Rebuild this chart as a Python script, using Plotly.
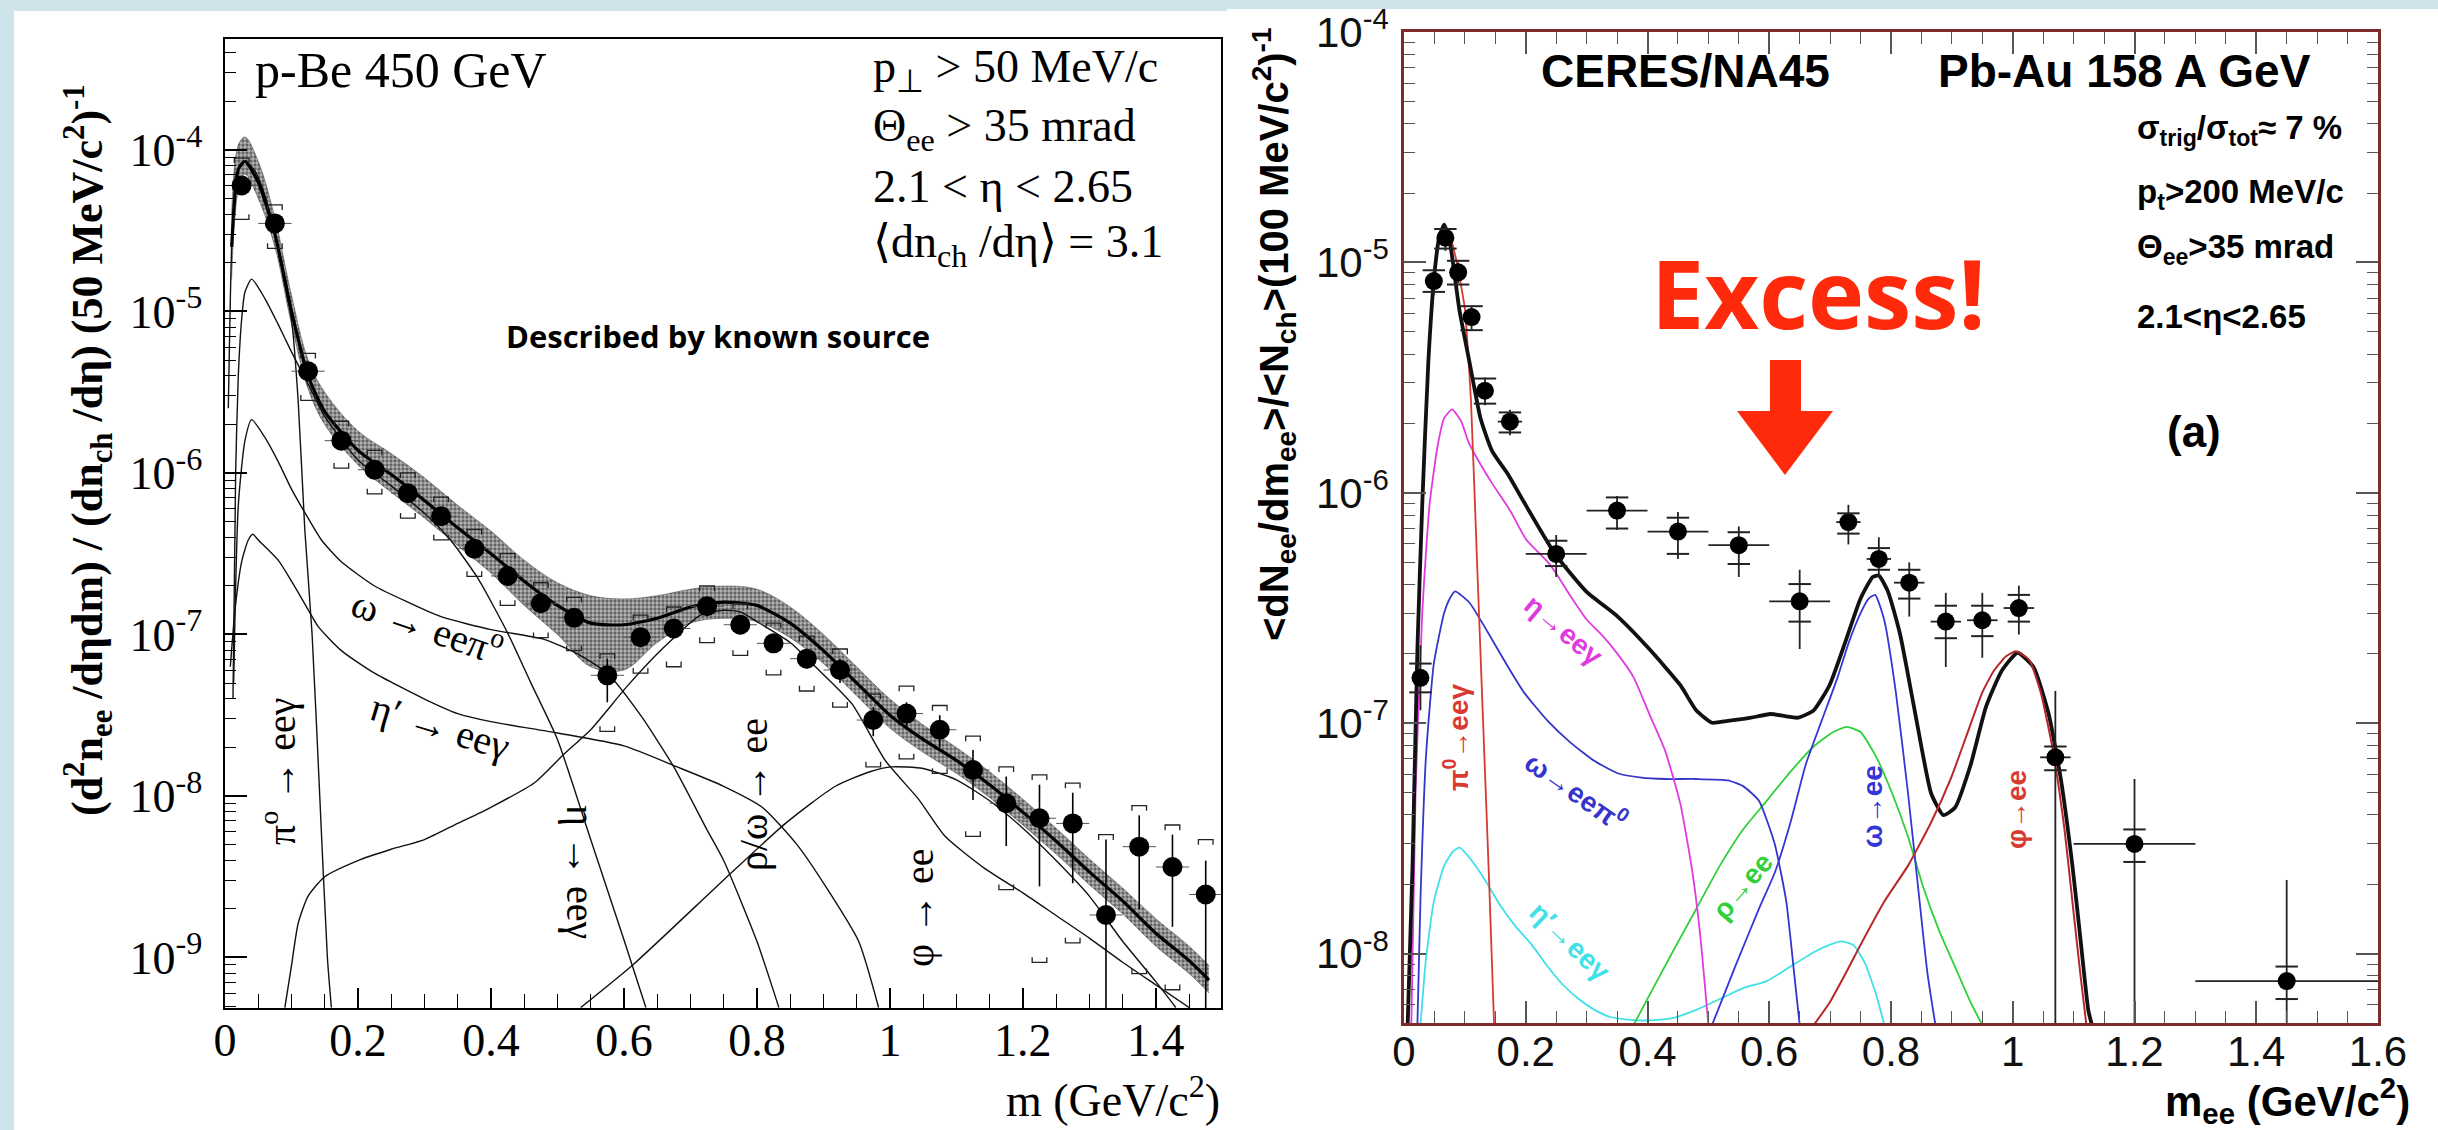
import plotly.graph_objects as go

W, H = 2438, 1130

# ---------------------------------------------------------------------------
# Left panel: p-Be 450 GeV (values stored as log10 of the yield)
# ---------------------------------------------------------------------------
pbe_mass = [0.025, 0.075, 0.125, 0.175, 0.225, 0.275, 0.325, 0.375, 0.425, 0.475,
            0.525, 0.575, 0.625, 0.675, 0.725, 0.775, 0.825, 0.875, 0.925, 0.975,
            1.025, 1.075, 1.125, 1.175, 1.225, 1.275, 1.325, 1.375, 1.425, 1.475]
pbe_lg = [-4.22, -4.455, -5.37, -5.80, -5.98, -6.126, -6.268, -6.469, -6.638, -6.807,
          -6.897, -7.253, -7.017, -6.963, -6.825, -6.94, -7.055, -7.15, -7.22, -7.53,
          -7.49, -7.59, -7.839, -8.045, -8.138, -8.17, -8.737, -8.314, -8.44, -8.61]
pbe_stat_hi = [-4.19, -4.43, -5.34, -5.77, -5.95, -6.09, -6.23, -6.43, -6.60, -6.76,
               -6.85, -7.15, -6.96, -6.91, -6.78, -6.89, -7.0, -7.09, -7.15, -7.45,
               -7.42, -7.5, -7.715, -7.88, -7.93, -7.98, -8.27, -8.12, -8.24, -8.40]
pbe_stat_lo = [-4.25, -4.48, -5.40, -5.83, -6.01, -6.16, -6.31, -6.51, -6.68, -6.86,
               -6.95, -7.42, -7.08, -7.02, -6.87, -6.99, -7.11, -7.21, -7.3, -7.63,
               -7.58, -7.7, -8.025, -8.31, -8.56, -8.54, -9.6, -8.70, -8.81, -9.6]
pbe_sys_hi = [-4.05, -4.34, -5.26, -5.68, -5.86, -6.0, -6.15, -6.35, -6.5, -6.68,
              -6.77, -7.12, -6.88, -6.83, -6.7, -6.81, -6.93, -7.01, -7.09, -7.37,
              -7.32, -7.44, -7.63, -7.82, -7.87, -7.92, -8.24, -8.06, -8.18, -8.27]
pbe_sys_lo = [-4.43, -4.61, -5.55, -5.97, -6.13, -6.28, -6.415, -6.64, -6.82, -7.02,
              -7.1, -7.6, -7.24, -7.2, -7.05, -7.13, -7.25, -7.35, -7.45, -7.82,
              -7.77, -7.86, -8.25, -8.58, -9.03, -8.91, -9.6, -9.1, -9.2, -9.6]
pbe_bin_half = [0.025] * 30

# total cocktail with its systematic band
band_mass = [0.01, 0.02, 0.03, 0.05, 0.075, 0.1, 0.125, 0.15, 0.2, 0.25, 0.3, 0.35,
             0.4, 0.45, 0.5, 0.55, 0.6, 0.65, 0.7, 0.75, 0.8, 0.85, 0.9, 0.95, 1.0,
             1.05, 1.1, 1.15, 1.2, 1.25, 1.3, 1.35, 1.4, 1.45, 1.48]
total_lg = [-4.6, -4.12, -4.07, -4.2, -4.52, -5.0, -5.4, -5.62, -5.86, -6.01, -6.17,
            -6.34, -6.5, -6.67, -6.82, -6.93, -6.94, -6.9, -6.83, -6.8, -6.82, -6.93,
            -7.1, -7.3, -7.5, -7.65, -7.78, -7.93, -8.1, -8.28, -8.47, -8.65, -8.85,
            -9.02, -9.14]
band_hi_lg = [-4.4, -3.97, -3.92, -4.07, -4.42, -4.9, -5.3, -5.5, -5.74, -5.88, -6.03,
              -6.2, -6.36, -6.54, -6.68, -6.76, -6.78, -6.76, -6.72, -6.7, -6.72, -6.83,
              -7.0, -7.2, -7.4, -7.56, -7.7, -7.85, -8.02, -8.2, -8.39, -8.57, -8.76,
              -8.93, -9.05]
band_lo_lg = [-4.8, -4.25, -4.15, -4.3, -4.6, -5.08, -5.48, -5.7, -5.95, -6.12, -6.28,
              -6.45, -6.62, -6.82, -7.0, -7.2, -7.22, -7.05, -6.93, -6.9, -6.92, -7.02,
              -7.18, -7.38, -7.58, -7.73, -7.86, -8.01, -8.18, -8.36, -8.55, -8.73,
              -8.93, -9.1, -9.22]

# individual hadron decay sources
pi0_mass = [0.005, 0.01, 0.015, 0.02, 0.03, 0.045, 0.06, 0.075, 0.09, 0.1, 0.11, 0.12,
            0.131, 0.1425, 0.154, 0.16]
pi0_lg = [-5.6, -4.6, -4.25, -4.12, -4.07, -4.13, -4.28, -4.52, -4.83, -5.05, -5.55,
          -6.35, -7.0, -8.0, -9.0, -9.31]
eta_mass = [0.012, 0.016, 0.02, 0.025, 0.03, 0.04, 0.06, 0.08, 0.1, 0.125, 0.15, 0.2,
            0.25, 0.3, 0.34, 0.38, 0.425, 0.46, 0.5, 0.55, 0.6, 0.633]
eta_lg = [-7.4, -6.0, -5.4, -5.05, -4.88, -4.8, -4.92, -5.08, -5.25, -5.45, -5.65,
          -5.92, -6.08, -6.25, -6.42, -6.65, -6.99, -7.3, -7.65, -8.27, -8.89, -9.31]
omd_mass = [0.013, 0.02, 0.03, 0.04, 0.06, 0.08, 0.1, 0.125, 0.145, 0.175, 0.225, 0.275,
            0.325, 0.4, 0.48, 0.53, 0.575, 0.625, 0.675, 0.725, 0.75, 0.8, 0.833]
omd_lg = [-7.3, -6.2, -5.8, -5.67, -5.78, -5.93, -6.1, -6.28, -6.415, -6.55, -6.70,
          -6.8, -6.89, -6.97, -7.03, -7.12, -7.24, -7.5, -7.82, -8.21, -8.4, -8.9, -9.31]
etap_mass = [0.008, 0.015, 0.025, 0.035, 0.042, 0.05, 0.08, 0.1, 0.12, 0.14, 0.175,
             0.225, 0.3, 0.35, 0.4, 0.5, 0.6, 0.68, 0.75, 0.808, 0.86, 0.908, 0.953,
             0.983]
etap_lg = [-7.2, -6.85, -6.55, -6.415, -6.38, -6.415, -6.54, -6.67, -6.81, -6.95,
           -7.1, -7.24, -7.4, -7.49, -7.54, -7.61, -7.69, -7.82, -7.94, -8.07, -8.3,
           -8.59, -8.9, -9.31]
rho_mass = [0.09, 0.1, 0.11, 0.125, 0.15, 0.2, 0.25, 0.3, 0.35, 0.4, 0.465, 0.51, 0.55,
            0.605, 0.66, 0.715, 0.75, 0.775, 0.8, 0.85, 0.888, 0.943, 0.993, 1.043,
            1.083, 1.143, 1.2, 1.25, 1.3, 1.35, 1.4, 1.45]
rho_lg = [-9.31, -9.05, -8.79, -8.62, -8.5, -8.4, -8.33, -8.27, -8.17, -8.07, -7.92,
          -7.74, -7.59, -7.32, -7.08, -6.88, -6.85, -6.86, -6.92, -7.05, -7.2, -7.43,
          -7.78, -8.02, -8.25, -8.45, -8.6, -8.74, -8.88, -9.03, -9.17, -9.31]
phi_mass = [0.535, 0.615, 0.75, 0.843, 0.918, 0.97, 1.003, 1.05, 1.1, 1.15, 1.2, 1.25,
            1.3, 1.35, 1.4, 1.43]
phi_lg = [-9.31, -9.04, -8.52, -8.17, -7.94, -7.85, -7.82, -7.83, -7.9, -8.03, -8.2,
          -8.4, -8.62, -8.9, -9.15, -9.31]

# ---------------------------------------------------------------------------
# Right panel: CERES/NA45 Pb-Au 158 A GeV
# ---------------------------------------------------------------------------
pbau_mass = [0.027, 0.049, 0.068, 0.089, 0.111, 0.133, 0.174, 0.25, 0.35, 0.45, 0.55,
             0.65, 0.73, 0.78, 0.83, 0.89, 0.95, 1.01, 1.07, 1.2, 1.45]
pbau_half = [0.01, 0.01, 0.01, 0.01, 0.01, 0.01, 0.02, 0.05, 0.05, 0.05, 0.05, 0.05,
             0.02, 0.02, 0.025, 0.025, 0.025, 0.025, 0.025, 0.1, 0.15]
pbau_lg = [-6.803, -5.081, -4.893, -5.043, -5.237, -5.557, -5.691, -6.265, -6.077,
           -6.168, -6.227, -6.471, -6.127, -6.287, -6.39, -6.559, -6.553, -6.50,
           -7.148, -7.524, -8.119]
pbau_stat_hi = [-6.662, -5.018, -4.84, -5.0, -5.19, -5.5, -5.64, -6.183, -6.014, -6.083,
                -6.146, -6.334, -6.052, -6.193, -6.302, -6.434, -6.434, -6.403, -6.86,
                -7.242, -7.68]
pbau_stat_lo = [-6.944, -5.143, -4.95, -5.09, -5.29, -5.62, -5.75, -6.365, -6.161,
                -6.287, -6.365, -6.678, -6.224, -6.365, -6.537, -6.756, -6.716, -6.615,
                -8.6, -8.6, -8.6]
pbau_sys_hi = [-6.741, -5.034, -4.855, -4.993, -5.19, -5.504, -5.651, -6.208, -6.02,
               -6.108, -6.171, -6.396, -6.089, -6.24, -6.334, -6.49, -6.49, -6.443,
               -7.101, -7.461, -8.056]
pbau_sys_lo = [-6.866, -5.128, -4.94, -5.096, -5.294, -5.613, -5.738, -6.318, -6.155,
               -6.265, -6.309, -6.559, -6.177, -6.334, -6.459, -6.631, -6.622, -6.559,
               -7.204, -7.602, -8.197]

cock_mass = [0.006, 0.014, 0.022, 0.03, 0.04, 0.05, 0.058, 0.066, 0.076, 0.091, 0.107,
             0.126, 0.145, 0.171, 0.197, 0.248, 0.3, 0.351, 0.403, 0.454, 0.48, 0.506,
             0.532, 0.57, 0.602, 0.647, 0.673, 0.699, 0.725, 0.75, 0.77, 0.78, 0.795,
             0.815, 0.84, 0.866, 0.886, 0.905, 0.931, 0.956, 0.982, 1.008, 1.034,
             1.059, 1.079, 1.098, 1.111, 1.124, 1.13]
cock_lg = [-8.31, -7.62, -6.68, -6.05, -5.43, -5.05, -4.89, -4.836, -4.924, -5.206,
           -5.425, -5.68, -5.82, -5.92, -6.04, -6.265, -6.43, -6.537, -6.678, -6.835,
           -6.944, -6.998, -6.99, -6.976, -6.96, -6.976, -6.944, -6.835, -6.647, -6.459,
           -6.365, -6.359, -6.428, -6.615, -6.96, -7.305, -7.399, -7.367, -7.179,
           -6.929, -6.772, -6.694, -6.756, -6.96, -7.242, -7.618, -7.931, -8.244, -8.31]
r_pi0_mass = [0.006, 0.014, 0.022, 0.03, 0.04, 0.05, 0.058, 0.066, 0.075, 0.085, 0.095,
              0.1, 0.11, 0.12, 0.13, 0.14, 0.148]
r_pi0_lg = [-8.31, -7.62, -6.68, -6.05, -5.43, -5.06, -4.9, -4.86, -4.88, -4.98, -5.12,
            -5.2, -5.6, -6.3, -7.0, -7.7, -8.31]
r_eta_mass = [0.012, 0.019, 0.03, 0.042, 0.055, 0.066, 0.079, 0.094, 0.106, 0.12, 0.145,
              0.175, 0.2, 0.236, 0.25, 0.274, 0.3, 0.326, 0.351, 0.377, 0.403, 0.429,
              0.454, 0.474, 0.487, 0.5]
r_eta_lg = [-8.31, -7.3, -6.52, -6.05, -5.8, -5.676, -5.638, -5.69, -5.78, -5.85, -5.96,
            -6.08, -6.2, -6.3, -6.35, -6.45, -6.55, -6.62, -6.70, -6.80, -6.96, -7.12,
            -7.35, -7.65, -7.93, -8.31]
r_omd_mass = [0.022, 0.027, 0.036, 0.049, 0.066, 0.075, 0.084, 0.107, 0.133, 0.171,
              0.197, 0.236, 0.274, 0.313, 0.351, 0.39, 0.429, 0.48, 0.532, 0.557, 0.583,
              0.609, 0.628, 0.641, 0.65]
r_omd_lg = [-8.31, -7.77, -7.148, -6.741, -6.52, -6.46, -6.428, -6.475, -6.584, -6.756,
            -6.866, -6.99, -7.085, -7.164, -7.217, -7.236, -7.242, -7.242, -7.248,
            -7.273, -7.336, -7.524, -7.774, -8.088, -8.31]
r_etap_mass = [0.027, 0.036, 0.049, 0.066, 0.081, 0.091, 0.113, 0.133, 0.158, 0.184,
               0.21, 0.236, 0.261, 0.287, 0.313, 0.339, 0.364, 0.403, 0.441, 0.48, 0.519,
               0.557, 0.596, 0.635, 0.673, 0.699, 0.718, 0.738, 0.757, 0.776, 0.789]
r_etap_lg = [-8.31, -8.025, -7.774, -7.618, -7.555, -7.54, -7.602, -7.68, -7.79, -7.884,
             -7.962, -8.056, -8.135, -8.197, -8.244, -8.275, -8.285, -8.29, -8.28,
             -8.244, -8.197, -8.15, -8.119, -8.056, -7.994, -7.962, -7.947, -7.962,
             -8.04, -8.181, -8.31]
r_rho_mass = [0.377, 0.403, 0.441, 0.48, 0.519, 0.557, 0.596, 0.635, 0.673, 0.705, 0.727,
              0.75, 0.776, 0.802, 0.828, 0.853, 0.879, 0.905, 0.931, 0.95]
r_rho_lg = [-8.31, -8.181, -7.994, -7.806, -7.618, -7.461, -7.336, -7.21, -7.101,
            -7.038, -7.016, -7.038, -7.148, -7.305, -7.493, -7.712, -7.9, -8.056,
            -8.213, -8.31]
r_omg_mass = [0.506, 0.544, 0.583, 0.609, 0.635, 0.66, 0.686, 0.712, 0.731, 0.75, 0.763,
              0.774, 0.789, 0.808, 0.828, 0.847, 0.86, 0.873]
r_omg_lg = [-8.31, -8.056, -7.806, -7.649, -7.43, -7.179, -6.99, -6.803, -6.647, -6.522,
            -6.46, -6.443, -6.553, -6.866, -7.305, -7.774, -8.088, -8.31]
r_phi_mass = [0.673, 0.699, 0.725, 0.75, 0.789, 0.828, 0.866, 0.898, 0.924, 0.95, 0.969,
              0.989, 1.005, 1.027, 1.046, 1.066, 1.085, 1.098, 1.111, 1.121]
r_phi_lg = [-8.31, -8.213, -8.088, -7.962, -7.774, -7.618, -7.43, -7.242, -7.054,
            -6.866, -6.772, -6.709, -6.688, -6.725, -6.866, -7.117, -7.461, -7.774,
            -8.088, -8.31]

decades_left = [-9, -8, -7, -6, -5, -4]
decades_right = [-8, -7, -6, -5, -4]


def ten(v):
    return [10.0 ** x for x in v]


def paper(X, Y):
    return X / W, 1 - Y / H


SERIF = "Liberation Serif"
SANS = "Liberation Sans"

fig = go.Figure()

# ---------------- left panel traces ----------------
fig.add_trace(go.Scatter(x=band_mass, y=ten(band_lo_lg), mode="lines",
                         line=dict(width=0.8, color="rgba(50,50,50,0.6)", shape="spline"),
                         xaxis="x", yaxis="y", hoverinfo="skip"))
fig.add_trace(go.Scatter(x=band_mass, y=ten(band_hi_lg), mode="lines",
                         line=dict(width=0.8, color="rgba(50,50,50,0.6)", shape="spline"),
                         fill="tonexty", fillcolor="rgba(95,95,95,0.6)",
                         fillpattern=dict(shape=".", fgcolor="#111111",
                                          bgcolor="rgba(125,125,125,0.55)",
                                          size=4, solidity=0.55),
                         xaxis="x", yaxis="y", hoverinfo="skip"))

for mx, ly in [(pi0_mass, pi0_lg), (eta_mass, eta_lg), (omd_mass, omd_lg),
               (etap_mass, etap_lg), (rho_mass, rho_lg), (phi_mass, phi_lg)]:
    fig.add_trace(go.Scatter(x=mx, y=ten(ly), mode="lines",
                             line=dict(color="#111", width=1.4, shape="spline",
                                       smoothing=0.6),
                             xaxis="x", yaxis="y"))

fig.add_trace(go.Scatter(x=band_mass, y=ten(total_lg), mode="lines",
                         line=dict(color="#000", width=3.2, shape="spline", smoothing=0.6),
                         xaxis="x", yaxis="y"))

# systematic brackets of the p-Be data
brx, bry = [], []
for m, top, bot in zip(pbe_mass, pbe_sys_hi, pbe_sys_lo):
    yt, yb = 10.0 ** top, 10.0 ** bot
    hook = 10.0 ** 0.032
    brx += [m - 0.011, m - 0.011, m + 0.011, m + 0.011, None]
    bry += [yt / hook, yt, yt, yt / hook, None]
    brx += [m - 0.011, m - 0.011, m + 0.011, m + 0.011, None]
    bry += [yb * hook, yb, yb, yb * hook, None]
fig.add_trace(go.Scatter(x=brx, y=bry, mode="lines", line=dict(color="#222", width=1.3),
                         xaxis="x", yaxis="y", connectgaps=False))

pbe_y = ten(pbe_lg)
fig.add_trace(go.Scatter(
    x=pbe_mass, y=pbe_y, mode="markers",
    marker=dict(color="#000", size=20, symbol="circle"),
    error_y=dict(type="data", symmetric=False,
                 array=[10.0 ** h - y for h, y in zip(pbe_stat_hi, pbe_y)],
                 arrayminus=[y - 10.0 ** l for l, y in zip(pbe_stat_lo, pbe_y)],
                 color="#000", thickness=1.6, width=0),
    error_x=dict(type="data", array=pbe_bin_half, color="#555", thickness=1.0, width=0),
    xaxis="x", yaxis="y"))

# ---------------- right panel traces ----------------
for mx, ly, col, wd in [(r_etap_mass, r_etap_lg, "#3fe0e6", 1.8),
                        (r_rho_mass, r_rho_lg, "#2fd03a", 1.8),
                        (r_omd_mass, r_omd_lg, "#3535cc", 1.8),
                        (r_omg_mass, r_omg_lg, "#3535d8", 1.8),
                        (r_eta_mass, r_eta_lg, "#e03be0", 1.8),
                        (r_pi0_mass, r_pi0_lg, "#d83a30", 1.8)]:
    fig.add_trace(go.Scatter(x=mx, y=ten(ly), mode="lines",
                             line=dict(color=col, width=wd, shape="spline", smoothing=0.5),
                             xaxis="x2", yaxis="y2"))
fig.add_trace(go.Scatter(x=cock_mass, y=ten(cock_lg), mode="lines",
                         line=dict(color="#111", width=3.8, shape="spline", smoothing=0.5),
                         xaxis="x2", yaxis="y2"))
fig.add_trace(go.Scatter(x=r_phi_mass, y=ten(r_phi_lg), mode="lines",
                         line=dict(color="#b8282a", width=2.0, shape="spline", smoothing=0.5),
                         xaxis="x2", yaxis="y2"))

pbau_y = ten(pbau_lg)
fig.add_trace(go.Scatter(
    x=pbau_mass, y=pbau_y, mode="markers",
    marker=dict(color="#000", size=18),
    error_y=dict(type="data", symmetric=False,
                 array=[10.0 ** h - y for h, y in zip(pbau_stat_hi, pbau_y)],
                 arrayminus=[y - 10.0 ** l for l, y in zip(pbau_stat_lo, pbau_y)],
                 color="#222", thickness=1.8, width=0),
    error_x=dict(type="data", array=pbau_half, color="#222", thickness=1.8, width=0),
    xaxis="x2", yaxis="y2"))
fig.add_trace(go.Scatter(
    x=pbau_mass + pbau_mass, y=ten(pbau_sys_hi) + ten(pbau_sys_lo), mode="markers",
    marker=dict(symbol="line-ew", size=16, line=dict(color="#222", width=2)),
    xaxis="x2", yaxis="y2"))

# ---------------- axes ----------------
minor_left = [d * 10.0 ** k for k in range(-10, -3) for d in range(2, 10)]
minor_right = [d * 10.0 ** k for k in range(-9, -4) for d in range(2, 10)]

fig.update_layout(
    width=W, height=H, margin=dict(l=0, r=0, t=0, b=0, autoexpand=False),
    paper_bgcolor="#cfe3ea", plot_bgcolor="#ffffff", showlegend=False,
    xaxis=dict(domain=[225 / W, 1221 / W], range=[0, 1.498], anchor="y",
               automargin=False,
               showline=True, linecolor="#000", linewidth=2, mirror=True,
               ticks="inside", ticklen=20, tickwidth=1.5, tickcolor="#000",
               dtick=0.2, tick0=0, showgrid=False, zeroline=False,
               ticklabelstandoff=-9,
               tickfont=dict(family=SERIF, size=46, color="#000"),
               minor=dict(dtick=0.05, ticks="inside", ticklen=14, tickwidth=1.2,
                          tickcolor="#000", showgrid=False)),
    yaxis=dict(domain=[1 - 1008 / H, 1 - 39 / H], type="log", range=[-9.313, -3.313],
               anchor="x", automargin=False,
               showline=True, linecolor="#000", linewidth=2, mirror=True,
               ticks="inside", ticklen=22, tickwidth=1.5, tickcolor="#000",
               tickmode="array", tickvals=ten(decades_left),
               ticktext=["10<sup>%d</sup>&nbsp;" % d for d in decades_left],
               showgrid=False, zeroline=False,
               tickfont=dict(family=SERIF, size=46, color="#000"),
               minor=dict(tickmode="array", tickvals=minor_left, ticks="inside",
                          ticklen=11, tickwidth=1.2, tickcolor="#000", showgrid=False)),
    xaxis2=dict(domain=[1404 / W, 2378 / W], range=[0, 1.6], anchor="y2",
                automargin=False,
                showline=True, linecolor="#7d2b2b", linewidth=2.5, mirror="ticks",
                ticks="inside", ticklen=22, tickwidth=1.6, tickcolor="#555",
                dtick=0.2, tick0=0, showgrid=False, zeroline=False,
                ticklabelstandoff=-10,
                tickfont=dict(family=SANS, size=42, color="#111"),
                minor=dict(dtick=0.05, ticks="inside", ticklen=12, tickwidth=1.3,
                           tickcolor="#555", showgrid=False)),
    yaxis2=dict(domain=[1 - 1023 / H, 1 - 32 / H], type="log", range=[-8.301, -4],
                anchor="x2", automargin=False,
                showline=True, linecolor="#7d2b2b", linewidth=2.5,
                mirror="ticks", ticks="inside", ticklen=22, tickwidth=1.6,
                tickcolor="#555", tickmode="array", tickvals=ten(decades_right),
                ticktext=["10<sup>%d</sup>" % d for d in decades_right],
                showgrid=False, zeroline=False, ticklabelstandoff=4,
                tickfont=dict(family=SANS, size=42, color="#111"),
                minor=dict(tickmode="array", tickvals=minor_right, ticks="inside",
                           ticklen=11, tickwidth=1.3, tickcolor="#555", showgrid=False)),
)

# white panel backgrounds and the red arrow
shapes = []
x0, y1 = paper(14, 11)
x1, y0 = paper(1227, 1130)
shapes.append(dict(type="rect", xref="paper", yref="paper", x0=x0, x1=x1, y0=y0, y1=y1,
                   fillcolor="#ffffff", line=dict(width=0), layer="below"))
x0, y1 = paper(1227, 9)
x1, y0 = paper(2438, 1130)
shapes.append(dict(type="rect", xref="paper", yref="paper", x0=x0, x1=x1, y0=y0, y1=y1,
                   fillcolor="#ffffff", line=dict(width=0), layer="below"))
arrow_pts = [(1770, 360), (1801, 360), (1801, 411), (1833, 411), (1785, 475),
             (1737, 411), (1770, 411)]
path = "M " + " L ".join("%.5f,%.5f" % paper(X, Y) for X, Y in arrow_pts) + " Z"
shapes.append(dict(type="path", xref="paper", yref="paper", path=path,
                   fillcolor="#fe2a0b", line=dict(width=0)))
fig.update_layout(shapes=shapes)

annotations = []


def note(X, Y, text, size, family=SERIF, color="#000", angle=0, xanchor="center",
         yanchor="middle", weight="normal"):
    px, py = paper(X, Y)
    annotations.append(dict(x=px, y=py, xref="paper", yref="paper", text=text,
                            showarrow=False, textangle=angle, xanchor=xanchor,
                            yanchor=yanchor,
                            font=dict(family=family, size=size, color=color,
                                      weight=weight)))


# left panel text
note(253, 70, "p-Be 450 GeV", 50, xanchor="left")
note(871, 70, "p<sub>⊥</sub> > 50 MeV/c", 46, xanchor="left")
note(871, 129, "Θ<sub>ee</sub> > 35 mrad", 46, xanchor="left")
note(871, 186, "2.1 &lt; η &lt; 2.65", 46, xanchor="left")
note(871, 245, "⟨dn<sub>ch</sub> /dη⟩ = 3.1", 46, xanchor="left")
note(718, 336, "Described by known source", 31, family="Open Sans", weight="bold")
note(88, 450, "(d<sup>2</sup>n<sub>ee</sub> /dηdm) / (dn<sub>ch</sub> /dη) "
              "(50 MeV/c<sup>2</sup>)<sup>-1</sup>", 44, angle=-90, weight="bold")
note(1222, 1097, "m (GeV/c<sup>2</sup>)", 46, xanchor="right")
note(278, 772, "π<sup>o</sup> → eeγ", 40, angle=-90)
note(428, 624, "ω → eeπ<sup>o</sup>", 40, angle=19)
note(440, 726, "η′ → eeγ", 40, angle=17)
note(581, 872, "η → eeγ", 40, angle=90)
note(753, 795, "ρ/ω → ee", 40, angle=-90)
note(919, 908, "φ → ee", 40, angle=-90)

# right panel text
note(1685, 71, "CERES/NA45", 46, family=SANS, weight="bold")
note(2124, 71, "Pb-Au 158 A GeV", 46, family=SANS, weight="bold")
note(2135, 130, "σ<sub>trig</sub>/σ<sub>tot</sub>≈ 7 %", 33, family=SANS,
     xanchor="left", weight="bold")
note(2135, 194, "p<sub>t</sub>&gt;200 MeV/c", 33, family=SANS, xanchor="left",
     weight="bold")
note(2135, 249, "Θ<sub>ee</sub>&gt;35 mrad", 33, family=SANS, xanchor="left",
     weight="bold")
note(2135, 316, "2.1&lt;η&lt;2.65", 33, family=SANS, xanchor="left", weight="bold")
note(2194, 431, "(a)", 44, family=SANS, weight="bold")
note(1818, 292, "Excess!", 95, family="Open Sans", color="#fe2a0b", weight="bold")
note(1274, 335, "&lt;dN<sub>ee</sub>/dm<sub>ee</sub>&gt;/&lt;N<sub>ch</sub>&gt;"
                "(100 MeV/c<sup>2</sup>)<sup>-1</sup>", 40, family=SANS, angle=-90,
     weight="bold")
note(2412, 1100, "m<sub>ee</sub> (GeV/c<sup>2</sup>)", 42, family=SANS, xanchor="right",
     weight="bold")
note(1456, 738, "π<sup>0</sup>→eeγ", 28, family=SANS, color="#d83a30", angle=-90,
     weight="bold")
note(1564, 630, "η→eeγ", 28, family=SANS, color="#e03be0", angle=40, weight="bold")
note(1576, 790, "ω→eeπ<sup>0</sup>", 28, family=SANS, color="#3535cc", angle=35,
     weight="bold")
note(1570, 941, "η′→eeγ", 28, family=SANS, color="#3fe0e6", angle=44, weight="bold")
note(1742, 886, "ρ→ee", 28, family=SANS, color="#2fd03a", angle=-50, weight="bold")
note(1872, 807, "ω→ee", 28, family=SANS, color="#3535d8", angle=-90, weight="bold")
note(2016, 810, "φ→ee", 28, family=SANS, color="#d83a30", angle=-90, weight="bold")

fig.update_layout(annotations=annotations)

fig.write_html("out.html")
